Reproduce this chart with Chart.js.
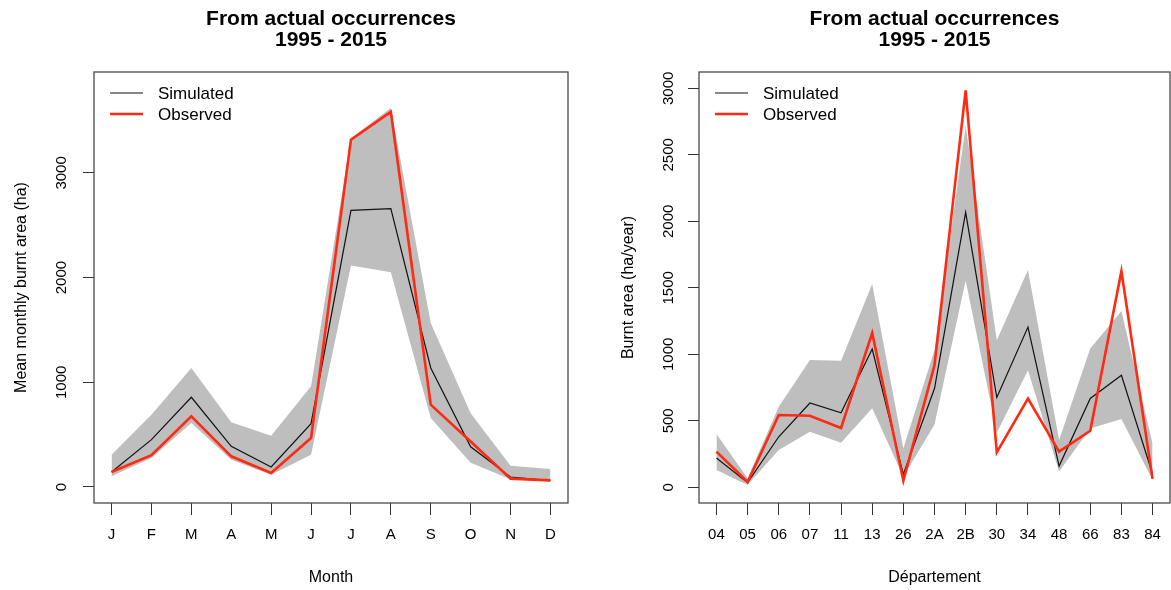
<!DOCTYPE html>
<html><head><meta charset="utf-8">
<script src="https://cdn.jsdelivr.net/npm/chart.js@4.4.1/dist/chart.umd.min.js"></script>
<style>
html,body{margin:0;padding:0;background:#fff;overflow:hidden;width:1171px;height:590px}
#c1{position:absolute;left:0;top:0}
#c2{position:absolute;left:585px;top:0}
</style></head><body>
<canvas id="c1" width="585" height="590"></canvas>
<canvas id="c2" width="600" height="590"></canvas>
<script>
// ---- Left panel: monthly ----
const months = ['J','F','M','A','M','J','J','A','S','O','N','D'];
const monthSimulated = [143,452,857,389,191,605,2643,2659,1137,384,95,62];
const monthObserved  = [143,303,675,293,134,468,3318,3583,787,435,80,63];
const monthUpper     = [309,691,1137,618,490,962,3330,3621,1567,705,203,171];
const monthLower     = [102,277,611,261,118,309,2115,2051,659,232,75,52];
const monthYTicks    = [0,1000,2000,3000];

// ---- Right panel: départements ----
const departements = ['04','05','06','07','11','13','26','2A','2B','30','34','48','66','83','84'];
const deptSimulated = [220,35,380,634,561,1040,98,743,2068,675,1205,160,668,843,100];
const deptObserved  = [268,40,544,538,446,1160,50,918,2985,263,668,268,425,1625,63];
const deptUpper     = [401,68,606,957,952,1529,293,1030,2718,1105,1635,355,1043,1325,330];
const deptLower     = [130,18,280,418,335,594,80,473,1555,410,880,118,443,513,55];
const deptYTicks    = [0,500,1000,1500,2000,2500,3000];

const titleLines = ['From actual occurrences','1995 - 2015'];
const legendLabels = ['Simulated','Observed'];

const FONT = '"Liberation Sans", Arial, Helvetica, sans-serif';
const RED = '#ff2a12', BLACK = '#111111', BAND = '#bebebe';

const rDecor = {
  id: 'rDecor',
  afterDraw(chart, args, o) {
    const ctx = chart.ctx, a = chart.chartArea;
    const xs = chart.scales.x, ys = chart.scales.y;
    ctx.save();
    ctx.strokeStyle = '#4a4a4a'; ctx.lineWidth = 1.3;
    ctx.strokeRect(a.left, a.top, a.right - a.left, a.bottom - a.top);
    ctx.fillStyle = '#000';
    ctx.textAlign = 'center'; ctx.textBaseline = 'middle';
    ctx.font = '15px ' + FONT;
    o.xLabels.forEach((l, i) => ctx.fillText(l, xs.getPixelForValue(i), o.xLabelY));
    o.yTicks.forEach(v => {
      const y = ys.getPixelForValue(v);
      ctx.save(); ctx.translate(a.left - o.yLabelOff, y); ctx.rotate(-Math.PI / 2);
      ctx.fillText(String(v), 0, 0); ctx.restore();
    });
    ctx.font = '16px ' + FONT;
    ctx.fillText(o.xTitle, (a.left + a.right) / 2, o.xTitleY);
    ctx.save(); ctx.translate(a.left - o.yTitleOff, (a.top + a.bottom) / 2); ctx.rotate(-Math.PI / 2);
    ctx.fillText(o.yTitle, 0, 0); ctx.restore();
    ctx.font = 'bold 21px ' + FONT;
    titleLines.forEach((t, i) => ctx.fillText(t, (a.left + a.right) / 2, [19, 40][i]));
    // legend
    ctx.font = '17px ' + FONT; ctx.textAlign = 'left';
    legendLabels.forEach((lab, i) => {
      const ds = chart.data.datasets.find(d => d.label === lab);
      const y = 93 + i * 21;
      ctx.strokeStyle = ds.borderColor; ctx.lineWidth = ds.borderWidth;
      ctx.beginPath(); ctx.moveTo(a.left + 16, y); ctx.lineTo(a.left + 49, y); ctx.stroke();
      ctx.fillStyle = '#000';
      ctx.fillText(lab, a.left + 64, y + 1);
    });
    ctx.restore();
  }
};

function pts(arr) { return arr.map((v, i) => ({ x: i, y: v })); }

function makeChart(id, cfg) {
  return new Chart(document.getElementById(id), {
    type: 'line',
    data: {
      datasets: [
        { label: 'Observed', data: pts(cfg.obs), borderColor: RED, borderWidth: 2.6, pointRadius: 0, fill: false, order: 0, tension: 0 },
        { label: 'Simulated', data: pts(cfg.sim), borderColor: BLACK, borderWidth: 1.2, pointRadius: 0, fill: false, order: 1, tension: 0 },
        { label: 'upper', data: pts(cfg.up), borderColor: 'rgba(0,0,0,0)', borderWidth: 0, backgroundColor: BAND, pointRadius: 0, fill: '+1', order: 2, tension: 0 },
        { label: 'lower', data: pts(cfg.lo), borderColor: 'rgba(0,0,0,0)', borderWidth: 0, pointRadius: 0, fill: false, order: 3, tension: 0 }
      ]
    },
    options: {
      responsive: false, animation: false, devicePixelRatio: 1,
      layout: { padding: { left: 0, top: 72, right: cfg.padRight, bottom: 0 } },
      plugins: {
        legend: { display: false }, tooltip: { enabled: false }, title: { display: false },
        rDecor: {
          xLabels: cfg.labels, yTicks: cfg.yTicks, xTitle: cfg.xTitle, yTitle: cfg.yTitle,
          xLabelY: 535, xTitleY: 578, yLabelOff: cfg.yLabelOff, yTitleOff: cfg.yTitleOff
        }
      },
      scales: {
        x: {
          type: 'linear', min: -0.04 * (cfg.labels.length - 1), max: (cfg.labels.length - 1) * 1.04,
          afterBuildTicks: s => { s.ticks = cfg.labels.map((_, i) => ({ value: i })); },
          afterFit: s => { s.height = 87; },
          ticks: { display: false },
          grid: { drawOnChartArea: false, drawTicks: true, tickLength: 12, color: '#333', lineWidth: 1 },
          border: { display: false }
        },
        y: {
          type: 'linear', min: cfg.yMin, max: cfg.yMax,
          afterBuildTicks: s => { s.ticks = cfg.yTicks.map(v => ({ value: v })); },
          afterFit: s => { s.width = cfg.yWidth; },
          ticks: { display: false },
          grid: { drawOnChartArea: false, drawTicks: true, tickLength: 11, color: '#333', lineWidth: 1 },
          border: { display: false }
        }
      }
    },
    plugins: [rDecor]
  });
}

makeChart('c1', {
  labels: months, sim: monthSimulated, obs: monthObserved, up: monthUpper, lo: monthLower,
  yTicks: monthYTicks, yMin: -153, yMax: 3964, yWidth: 94, padRight: 17,
  xTitle: 'Month', yTitle: 'Mean monthly burnt area (ha)', yLabelOff: 32, yTitleOff: 72
});
makeChart('c2', {
  labels: departements, sim: deptSimulated, obs: deptObserved, up: deptUpper, lo: deptLower,
  yTicks: deptYTicks, yMin: -118, yMax: 3123, yWidth: 114, padRight: 15,
  xTitle: 'Département', yTitle: 'Burnt area (ha/year)', yLabelOff: 30, yTitleOff: 70
});
</script>
</body></html>
